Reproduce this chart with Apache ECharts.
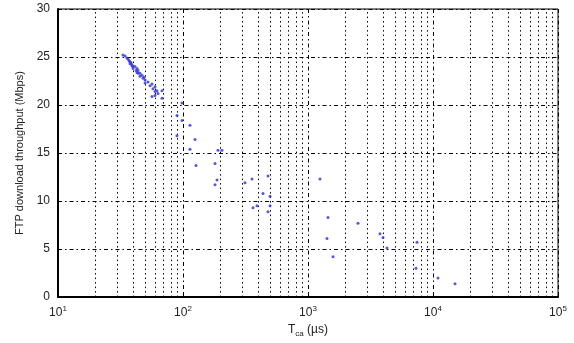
<!DOCTYPE html>
<html>
<head>
<meta charset="utf-8">
<script src="https://cdn.jsdelivr.net/npm/echarts@6/dist/echarts.min.js"></script>
<style>html,body{margin:0;padding:0;background:#fff}#c{width:574px;height:343px}</style>
</head>
<body>
<div id="c"></div>
<script>
// T_ca values (µs)
const tca = [33.1,34.4,35.6,36.3,37.0,37.7,37.7,38.4,39.1,39.1,39.8,39.8,41.3,42.1,42.9,42.9,43.7,43.7,45.3,45.3,47.0,47.9,48.8,49.7,49.7,52.5,54.5,56.5,57.5,59.7,59.7,61.9,56.5,59.7,63.1,67.9,67.9,
  98.2,89.5,98.2,113.8,124.7,89.5,113.8,190.5,205.1,127.1,180.3,187.1,180.3,313.3,356.4,478.6,436.5,496.6,496.6,363.1,390.8,478.6,1247,1445,1419,1585,2512,3767,3981,4285,7447,7311,10965,15000];
// FTP download throughput (Mbps)
const thr = [25.2,25.1,24.9,24.8,24.6,24.5,24.3,24.4,24.2,24.1,24.0,23.8,24.0,23.6,23.8,23.4,23.6,23.3,23.3,23.0,23.1,22.8,22.9,22.6,22.3,22.4,22.0,22.2,21.7,21.9,21.4,21.5,20.9,21.0,21.2,21.5,20.7,
  20.2,18.9,18.4,17.9,16.4,16.8,15.4,15.3,15.3,13.7,13.9,12.2,11.7,11.9,12.3,12.6,10.8,10.5,9.5,9.3,9.5,8.9,12.3,8.3,6.1,4.2,7.7,6.6,6.2,5.1,5.7,3.0,2.0,1.4];
const yTicks = [0,5,10,15,20,25,30];
const xDecades = [10,100,1000,10000,100000];
const minorX = [20,30,40,50,60,70,80,90,200,300,400,500,600,700,800,900,2000,3000,4000,5000,6000,7000,8000,9000,20000,30000,40000,50000,60000,70000,80000,90000];

const chart = echarts.init(document.getElementById('c'));
const txt = '#222';
chart.setOption({
  animation:false,
  grid:{left:58,right:16,top:9,bottom:40,show:true,borderColor:'#000',borderWidth:1,backgroundColor:'transparent'},
  xAxis:{
    type:'log', logBase:10, min:xDecades[0], max:xDecades[xDecades.length-1],
    name:'{t|T}{s|ca}{t| (\u00b5s)}', nameLocation:'middle', nameGap:22,
    nameTextStyle:{rich:{t:{fontSize:12,color:txt,fontFamily:'Liberation Sans'},s:{fontSize:8,color:txt,fontFamily:'Liberation Sans',padding:[8,0,0,0]}}},
    axisLine:{lineStyle:{color:'#000',width:2}},
    axisTick:{show:true,inside:true,length:4,lineStyle:{color:'#000'}},
    splitLine:{show:true,lineStyle:{color:'#000',width:1,type:[4,3,1.5,3]}},
    axisLabel:{margin:8,formatter:v=>'{b|10}{e|'+Math.round(Math.log10(v))+'}',
      rich:{b:{fontSize:12,color:txt,fontFamily:'Liberation Sans'},e:{fontSize:8,color:txt,fontFamily:'Liberation Sans',padding:[0,0,8,0]}}}
  },
  yAxis:{
    type:'value', min:yTicks[0], max:yTicks[yTicks.length-1], interval:5,
    name:'FTP download throughput (Mbps)', nameLocation:'middle', nameGap:32,
    nameTextStyle:{fontSize:11,color:txt,fontFamily:'Liberation Sans'},
    axisLine:{show:true,lineStyle:{color:'#000',width:2}},
    axisTick:{show:true,inside:true,length:4,lineStyle:{color:'#000'}},
    splitLine:{show:true,lineStyle:{color:'#000',width:1,type:[4,3,1.5,3]}},
    axisLabel:{fontSize:12,color:txt,fontFamily:'Liberation Sans',margin:8}
  },
  series:[{
    type:'scatter', symbolSize:3,
    itemStyle:{color:'#3a3ad0',opacity:0.85},
    data:tca.map((t,i)=>[t,thr[i]]),
    markLine:{silent:true,symbol:'none',label:{show:false},
      lineStyle:{color:'#000',width:1,type:[1.5,3]},
      data:minorX.map(v=>({xAxis:v}))},
    z:5
  }]
});
</script>
</body>
</html>
